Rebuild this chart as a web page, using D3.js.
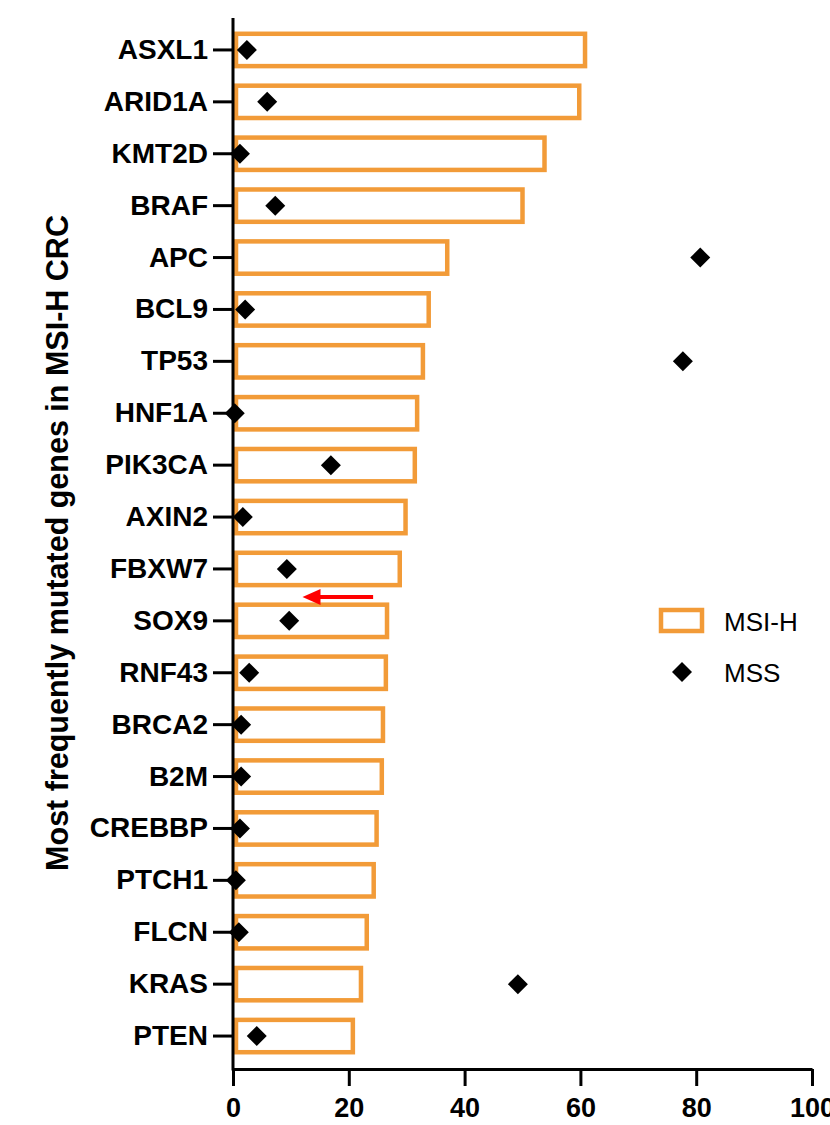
<!DOCTYPE html>
<html>
<head>
<meta charset="utf-8">
<script src="https://cdn.jsdelivr.net/npm/d3@7"></script>
<style>
  body { margin: 0; background: #fff; }
  svg { display: block; font-family: "Liberation Sans", Arial, Helvetica, sans-serif; }
</style>
</head>
<body>
<svg id="chart"></svg>
<script>
const genes = ["ASXL1", "ARID1A", "KMT2D", "BRAF", "APC", "BCL9", "TP53", "HNF1A", "PIK3CA", "AXIN2",
               "FBXW7", "SOX9", "RNF43", "BRCA2", "B2M", "CREBBP", "PTCH1", "FLCN", "KRAS", "PTEN"];
const msiH = [60.8, 59.8, 53.8, 50.0, 37.0, 33.8, 32.8, 31.8, 31.4, 29.8,
              28.8, 26.6, 26.4, 25.9, 25.7, 24.8, 24.3, 23.1, 22.1, 20.7];
const mss = [2.4, 5.9, 1.2, 7.3, 80.7, 2.1, 77.7, 0.3, 16.9, 1.7,
             9.3, 9.7, 2.8, 1.4, 1.4, 1.2, 0.5, 1.0, 49.2, 4.1];
const xTicks = [0, 20, 40, 60, 80, 100];
const seriesNames = ["MSI-H", "MSS"];
// arrow annotation between FBXW7 and SOX9 (x in data units)
const arrowFrom = 24.2, arrowTo = 12.0;

const W = 830, H = 1125;
const orange = "#F29B38";

const svg = d3.select("#chart").attr("width", W).attr("height", H);

const x = d3.scaleLinear().domain([0, 100]).range([233, 812]);
const y = d3.scaleBand().domain(genes).range([24, 1062]).paddingInner(0.3).paddingOuter(0.15);
const axisY = 1069;

// bars (MSI-H)
svg.append("g").selectAll("rect")
    .data(genes)
    .enter().append("rect")
    .attr("x", x(0) + 3)
    .attr("y", d => y(d) + 2)
    .attr("width", (d, i) => x(msiH[i]) - x(0) - 3)
    .attr("height", y.bandwidth() - 4)
    .attr("fill", "none")
    .attr("stroke", orange)
    .attr("stroke-width", 4.5);

// diamonds (MSS)
const diamond = d3.symbol().type(d3.symbolSquare).size(200);
svg.append("g").selectAll("path")
    .data(genes)
    .enter().append("path")
    .attr("d", diamond)
    .attr("transform", (d, i) => `translate(${x(mss[i])},${y(d) + y.bandwidth() / 2}) rotate(45)`)
    .attr("fill", "#000");

// red arrow
const arrowY = (y("FBXW7") + y.bandwidth() + y("SOX9")) / 2 + 2;
svg.append("line")
    .attr("x1", x(arrowFrom)).attr("x2", x(arrowTo) + 14)
    .attr("y1", arrowY).attr("y2", arrowY)
    .attr("stroke", "#FF0000").attr("stroke-width", 4);
svg.append("path")
    .attr("d", `M${x(arrowTo)},${arrowY} L${x(arrowTo) + 18},${arrowY - 8} L${x(arrowTo) + 18},${arrowY + 8} Z`)
    .attr("fill", "#FF0000");

// y axis
const gy = svg.append("g")
    .attr("transform", `translate(${x(0)},0)`)
    .call(d3.axisLeft(y).tickSize(20).tickPadding(5));
gy.select(".domain").remove();
gy.selectAll(".tick line").attr("stroke", "#000").attr("stroke-width", 3);
gy.selectAll(".tick text")
    .style("font-size", "28px").style("font-weight", "bold").attr("fill", "#000");
svg.append("line")
    .attr("x1", x(0)).attr("x2", x(0))
    .attr("y1", 18).attr("y2", axisY + 1.5)
    .attr("stroke", "#000").attr("stroke-width", 3);

// x axis
const gx = svg.append("g")
    .attr("transform", `translate(0,${axisY})`)
    .call(d3.axisBottom(x).tickValues(xTicks).tickSize(17).tickSizeOuter(0).tickPadding(12));
gx.select(".domain").attr("stroke", "#000").attr("stroke-width", 3);
gx.selectAll(".tick line").attr("stroke", "#000").attr("stroke-width", 3);
gx.selectAll(".tick text")
    .style("font-size", "27px").style("font-weight", "bold").attr("fill", "#000");

// y title
svg.append("text")
    .attr("transform", `translate(68,543) rotate(-90)`)
    .attr("text-anchor", "middle")
    .style("font-size", "30.5px")
    .style("font-weight", "bold")
    .text("Most frequently mutated genes in MSI-H CRC");

// legend
const lg = svg.append("g");
lg.append("rect")
    .attr("x", 661).attr("y", 610).attr("width", 41).attr("height", 21)
    .attr("fill", "none").attr("stroke", orange).attr("stroke-width", 4.5);
lg.append("text").attr("x", 724).attr("y", 631)
    .style("font-size", "26px").text(seriesNames[0]);
lg.append("path")
    .attr("d", diamond)
    .attr("transform", "translate(682,672) rotate(45)");
lg.append("text").attr("x", 724).attr("y", 682)
    .style("font-size", "26px").text(seriesNames[1]);
</script>
</body>
</html>
